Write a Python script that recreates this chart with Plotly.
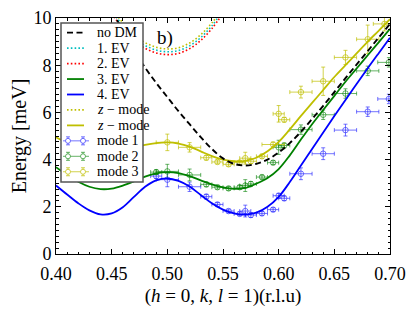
import plotly.graph_objects as go

# ---------------- data ----------------
k_grid = [0.40, 0.41, 0.42, 0.43, 0.44, 0.45, 0.46, 0.47, 0.48, 0.49, 0.50,
          0.51, 0.52, 0.53, 0.54, 0.55, 0.56, 0.57, 0.58, 0.59, 0.60,
          0.61, 0.62, 0.63, 0.64, 0.65, 0.66, 0.67, 0.68, 0.69, 0.70]
ev4 = [2.90, 2.52, 2.15, 1.85, 1.68, 1.72, 1.98, 2.42, 2.85, 3.12, 3.20,
       3.10, 2.86, 2.50, 2.15, 1.88, 1.72, 1.67, 1.75, 2.00, 2.42,
       3.05, 3.75, 4.45, 5.15, 5.85, 6.53, 7.20, 7.87, 8.52, 9.16]
ev3 = [3.68, 3.35, 3.06, 2.85, 2.75, 2.77, 2.90, 3.08, 3.28, 3.42, 3.47,
       3.43, 3.30, 3.12, 2.95, 2.82, 2.76, 2.80, 2.98, 3.22, 3.60,
       4.18, 4.85, 5.50, 6.10, 6.70, 7.30, 7.86, 8.42, 8.98, 9.54]
zmode = [4.95, 4.72, 4.52, 4.38, 4.31, 4.32, 4.40, 4.50, 4.62, 4.70, 4.73,
         4.68, 4.55, 4.35, 4.15, 4.00, 3.93, 3.95, 4.08, 4.35, 4.75,
         5.28, 5.85, 6.40, 6.95, 7.50, 8.00, 8.50, 9.00, 9.47, 9.95]

k_nodm = [0.45, 0.46, 0.47, 0.48, 0.49, 0.50, 0.51, 0.52, 0.53, 0.54, 0.55,
          0.56, 0.57, 0.58, 0.59, 0.60, 0.61, 0.62, 0.63, 0.64, 0.65,
          0.66, 0.67, 0.68, 0.69, 0.70]
nodm = [10.25, 9.50, 8.65, 7.90, 7.25, 6.65, 6.05, 5.50, 4.95, 4.45, 4.05,
        3.82, 3.75, 3.82, 4.00, 4.30, 4.70, 5.18, 5.72, 6.28, 6.86,
        7.45, 8.03, 8.60, 9.18, 9.75]

k_upper = [0.45, 0.46, 0.47, 0.48, 0.49, 0.50, 0.51, 0.52, 0.53, 0.54, 0.55]
ev1 = [10.32, 9.67, 9.17, 8.84, 8.64, 8.57, 8.62, 8.82, 9.17, 9.67, 10.32]
ev2 = [10.20, 9.55, 9.05, 8.72, 8.52, 8.45, 8.50, 8.70, 9.05, 9.55, 10.20]
zmode_up = [10.44, 9.79, 9.29, 8.96, 8.76, 8.69, 8.74, 8.94, 9.29, 9.79, 10.44]

m1_k = [0.49, 0.50, 0.52, 0.535, 0.545, 0.555, 0.565, 0.57, 0.575, 0.585,
        0.595, 0.60, 0.605, 0.62, 0.64, 0.66, 0.68, 0.699]
m1_e = [3.30, 3.15, 2.85, 2.43, 2.10, 1.82, 1.70, 1.82, 1.65, 1.72,
        1.88, 2.47, 2.36, 3.40, 4.25, 5.25, 6.03, 6.57]
m1_dk = [0.005, 0.01, 0.01, 0.005, 0.005, 0.005, 0.005, 0.005, 0.005, 0.005,
         0.005, 0.005, 0.005, 0.01, 0.01, 0.01, 0.01, 0.01]
m1_de = [0.10, 0.30, 0.20, 0.10, 0.08, 0.08, 0.08, 0.25, 0.10, 0.08,
         0.08, 0.10, 0.10, 0.25, 0.25, 0.25, 0.20, 0.20]

m2_k = [0.49, 0.50, 0.52, 0.535, 0.545, 0.555, 0.565, 0.57, 0.575, 0.585,
        0.595, 0.60, 0.605, 0.62, 0.64, 0.66, 0.68, 0.699]
m2_e = [3.47, 3.50, 3.35, 2.95, 2.83, 2.78, 2.83, 2.90, 2.97, 3.26,
        3.87, 4.52, 4.60, 5.27, 5.90, 6.80, 7.76, 8.12]
m2_dk = [0.005, 0.01, 0.01, 0.005, 0.005, 0.005, 0.005, 0.005, 0.005, 0.005,
         0.005, 0.005, 0.005, 0.01, 0.01, 0.01, 0.01, 0.01]
m2_de = [0.10, 0.30, 0.25, 0.10, 0.08, 0.08, 0.08, 0.25, 0.10, 0.08,
         0.08, 0.30, 0.10, 0.20, 0.20, 0.20, 0.20, 0.20]

m3_k = [0.50, 0.52, 0.535, 0.545, 0.555, 0.565, 0.57, 0.575, 0.585,
        0.595, 0.60, 0.605, 0.62, 0.64, 0.66, 0.68, 0.695]
m3_e = [4.73, 4.52, 4.08, 3.90, 3.80, 3.88, 4.06, 3.93, 4.14,
        4.64, 5.94, 5.69, 6.86, 7.32, 8.33, 9.10, 9.75]
m3_dk = [0.01, 0.01, 0.005, 0.005, 0.005, 0.005, 0.005, 0.005, 0.005,
         0.01, 0.005, 0.005, 0.01, 0.01, 0.01, 0.01, 0.01]
m3_de = [0.35, 0.20, 0.10, 0.08, 0.08, 0.08, 0.25, 0.10, 0.08,
         0.10, 0.35, 0.10, 0.25, 0.60, 0.30, 0.60, 0.30]

legend_labels = ["no DM", "1. EV", "2. EV", "3. EV", "4. EV",
                 "<i>z</i> − mode", "<i>z</i> − mode", "mode 1", "mode 2", "mode 3"]

# ---------------- styles ----------------
BLUE = "#0000ff"
GREEN = "#008000"
OLIVE = "#bfbf00"
CYAN = "#00bfbf"
RED = "#ff0000"
B_A = "rgba(40,40,255,0.65)"
G_A = "rgba(0,128,0,0.6)"
Y_A = "rgba(191,191,0,0.7)"
FONT = "Liberation Serif"
DASH = "6px,3.5px"
DOT = "1.6px,2.2px"

OFF = 8                      # page offset of the figure div (body margin)
W, H = 415 - OFF, 312 - OFF
L, T = 56 - OFF, 18 - OFF    # plot area left/top in page pixels: 56, 18
R = OFF + W - 390            # plot right edge at page x = 390
B = OFF + H - 254            # plot bottom edge at page y = 254
PW, PH = W - L - R, H - T - B

fig = go.Figure()


def line(x, y, color, dash="solid", width=1.8):
    fig.add_trace(go.Scatter(x=x, y=y, mode="lines", line_shape="spline",
                             line=dict(color=color, width=width, dash=dash),
                             showlegend=False, hoverinfo="skip"))


def points(x, y, dx, dy, color):
    fig.add_trace(go.Scatter(
        x=x, y=y, mode="markers",
        marker=dict(symbol="circle-open", size=5.5, color=color, line=dict(width=1, color=color)),
        error_x=dict(type="data", array=dx, visible=True, color=color, thickness=1, width=2),
        error_y=dict(type="data", array=dy, visible=True, color=color, thickness=1, width=2),
        showlegend=False, hoverinfo="skip"))


points(m1_k, m1_e, m1_dk, m1_de, B_A)
points(m2_k, m2_e, m2_dk, m2_de, G_A)
points(m3_k, m3_e, m3_dk, m3_de, Y_A)

line(k_upper, ev1, CYAN, DOT, 1.6)
line(k_upper, ev2, RED, DOT, 1.6)
line(k_upper, zmode_up, OLIVE, DOT, 1.6)
line(k_grid, zmode, OLIVE)
line(k_grid, ev3, GREEN)
line(k_grid, ev4, BLUE)
line(k_nodm, nodm, "black", DASH, 1.9)

# ---------------- compact legend box drawn like the original ----------------
def px(xp):
    return (xp - OFF - L) / PW


def py(yp):
    return 1 - (yp - OFF - T) / PH


shapes = []
annotations = []
shapes.append(dict(type="rect", xref="paper", yref="paper",
                   x0=px(61), x1=px(143), y0=py(182), y1=py(23),
                   line=dict(color="#555555", width=1.5), fillcolor="white", layer="above"))
row0, step = 32.7, 15.45
glyphs = [("line", "black", DASH), ("line", CYAN, DOT), ("line", RED, DOT),
          ("line", GREEN, "solid"), ("line", BLUE, "solid"), ("line", OLIVE, DOT),
          ("line", OLIVE, "solid"), ("pt", B_A, None), ("pt", G_A, None), ("pt", Y_A, None)]
for i, (lab, g) in enumerate(zip(legend_labels, glyphs)):
    yc = row0 + i * step
    kind, col, dash = g
    if kind == "line":
        shapes.append(dict(type="line", xref="paper", yref="paper",
                           x0=px(67), x1=px(84), y0=py(yc), y1=py(yc),
                           line=dict(color=col, width=1.8, dash=dash), layer="above"))
    else:
        shapes.append(dict(type="line", xref="paper", yref="paper",
                           x0=px(63), x1=px(89), y0=py(yc), y1=py(yc),
                           line=dict(color=col, width=1), layer="above"))
        for xc in (68, 83):
            shapes.append(dict(type="line", xref="paper", yref="paper",
                               x0=px(xc), x1=px(xc), y0=py(yc - 4), y1=py(yc + 4),
                               line=dict(color=col, width=1), layer="above"))
            for yy in (yc - 4, yc + 4):
                shapes.append(dict(type="line", xref="paper", yref="paper",
                                   x0=px(xc - 2), x1=px(xc + 2), y0=py(yy), y1=py(yy),
                                   line=dict(color=col, width=1), layer="above"))
            shapes.append(dict(type="circle", xref="paper", yref="paper",
                               x0=px(xc - 2.5), x1=px(xc + 2.5), y0=py(yc + 2.5), y1=py(yc - 2.5),
                               line=dict(color=col, width=1), fillcolor="white", layer="above"))
    annotations.append(dict(xref="paper", yref="paper", x=px(95), y=py(yc),
                            xanchor="left", yanchor="middle", text=lab, showarrow=False,
                            font=dict(family=FONT, size=14, color="black")))

annotations.append(dict(xref="x", yref="y", x=0.498, y=9.15, text="b)", showarrow=False,
                        font=dict(family=FONT, size=19, color="black")))

axis_common = dict(showline=True, linecolor="black", linewidth=1, mirror="allticks",
                   ticks="inside", ticklen=5, tickwidth=1, tickcolor="black",
                   showgrid=False, zeroline=False,
                   tickfont=dict(family=FONT, size=18, color="black"))

fig.update_layout(
    width=W, height=H,
    margin=dict(l=L, r=R, t=T, b=B, autoexpand=False),
    paper_bgcolor="white", plot_bgcolor="white",
    showlegend=False,
    shapes=shapes, annotations=annotations,
    xaxis=dict(range=[0.40, 0.70], tickvals=[0.40, 0.45, 0.50, 0.55, 0.60, 0.65, 0.70],
               ticktext=["0.40", "0.45", "0.50", "0.55", "0.60", "0.65", "0.70"],
               ticklabelstandoff=3,
               minor=dict(dtick=0.01, ticks="inside", ticklen=2.5, tickcolor="black", showgrid=False),
               title=dict(text="(<i>h</i> = 0, <i>k</i>, <i>l</i> = 1)(r.l.u)",
                          font=dict(family=FONT, size=19, color="black"), standoff=6),
               **axis_common),
    yaxis=dict(range=[0, 10], tickvals=[0, 2, 4, 6, 8, 10],
               minor=dict(dtick=0.25, ticks="inside", ticklen=2.5, tickcolor="black", showgrid=False),
               title=dict(text="Energy [meV]", font=dict(family=FONT, size=20, color="black"),
                          standoff=2),
               **axis_common),
)

fig.write_html("out.html")
